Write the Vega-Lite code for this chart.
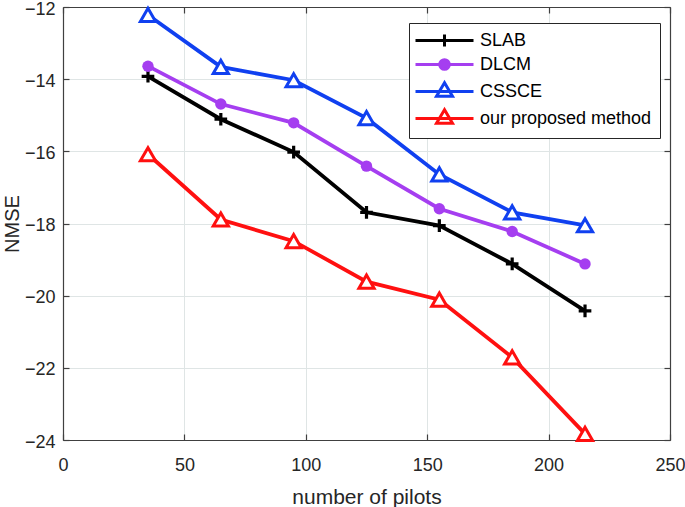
{
  "$schema": "https://vega.github.io/schema/vega-lite/v6.json",
  "width": 607,
  "height": 433,
  "autosize": {"type": "none"},
  "padding": {"left": 63, "top": 7, "right": 15, "bottom": 67},
  "background": "white",
  "config": {
    "view": {"stroke": null},
    "font": "Liberation Sans",
    "axis": {
      "labelFont": "Liberation Sans",
      "labelFontSize": 18,
      "labelColor": "#262626",
      "labelFlush": false,
      "titleFont": "Liberation Sans",
      "titleFontSize": 21,
      "titleFontWeight": "normal",
      "titleColor": "#262626",
      "domainColor": "#404040",
      "domainWidth": 1.2,
      "tickColor": "#404040",
      "tickWidth": 1.2,
      "tickSize": -6,
      "gridColor": "#dfe5e5",
      "gridWidth": 1,
      "gridOpacity": 1
    },
    "legend": {
      "labelFont": "Liberation Sans",
      "labelFontSize": 18,
      "labelColor": "#000000",
      "labelLimit": 0,
      "strokeColor": "#262626",
      "fillColor": "white",
      "padding": 8,
      "symbolSize": 256,
      "symbolStrokeWidth": 3,
      "symbolOpacity": 1,
      "symbolOffset": 18,
      "labelOffset": 26,
      "rowPadding": 0,
      "cornerRadius": 0
    }
  },
  "data": {
    "values": [
      {"series": "SLAB", "pilots": 35, "nmse": -13.92},
      {"series": "SLAB", "pilots": 65, "nmse": -15.11},
      {"series": "SLAB", "pilots": 95, "nmse": -16.02},
      {"series": "SLAB", "pilots": 125, "nmse": -17.69},
      {"series": "SLAB", "pilots": 155, "nmse": -18.06},
      {"series": "SLAB", "pilots": 185, "nmse": -19.12},
      {"series": "SLAB", "pilots": 215, "nmse": -20.42},
      {"series": "DLCM", "pilots": 35, "nmse": -13.64},
      {"series": "DLCM", "pilots": 65, "nmse": -14.69},
      {"series": "DLCM", "pilots": 95, "nmse": -15.21},
      {"series": "DLCM", "pilots": 125, "nmse": -16.41},
      {"series": "DLCM", "pilots": 155, "nmse": -17.59},
      {"series": "DLCM", "pilots": 185, "nmse": -18.22},
      {"series": "DLCM", "pilots": 215, "nmse": -19.12},
      {"series": "CSSCE", "pilots": 35, "nmse": -12.22},
      {"series": "CSSCE", "pilots": 65, "nmse": -13.66},
      {"series": "CSSCE", "pilots": 95, "nmse": -14.03},
      {"series": "CSSCE", "pilots": 125, "nmse": -15.08},
      {"series": "CSSCE", "pilots": 155, "nmse": -16.64},
      {"series": "CSSCE", "pilots": 185, "nmse": -17.69},
      {"series": "CSSCE", "pilots": 215, "nmse": -18.05},
      {"series": "our proposed method", "pilots": 35, "nmse": -16.08},
      {"series": "our proposed method", "pilots": 65, "nmse": -17.89},
      {"series": "our proposed method", "pilots": 95, "nmse": -18.49},
      {"series": "our proposed method", "pilots": 125, "nmse": -19.61},
      {"series": "our proposed method", "pilots": 155, "nmse": -20.11},
      {"series": "our proposed method", "pilots": 185, "nmse": -21.71},
      {"series": "our proposed method", "pilots": 215, "nmse": -23.83}
    ]
  },
  "resolve": {"axis": {"x": "independent", "y": "independent"}},
  "layer": [
    {
      "transform": [{"filter": "datum.series === 'SLAB'"}],
      "mark": {"type": "line", "strokeWidth": 3.8, "color": "#000000"},
      "encoding": {
        "x": {
          "field": "pilots", "type": "quantitative",
          "scale": {"domain": [0, 250], "nice": false},
          "axis": {
            "orient": "bottom", "title": "number of pilots",
            "values": [0, 50, 100, 150, 200, 250],
            "labelPadding": 36, "labelBaseline": "alphabetic",
            "titleY": 63, "titleBaseline": "alphabetic",
            "grid": true
          }
        },
        "y": {
          "field": "nmse", "type": "quantitative",
          "scale": {"domain": [-24, -12], "nice": false, "zero": false},
          "axis": {
            "orient": "left", "title": "NMSE",
            "values": [-24, -22, -20, -18, -16, -14, -12],
            "labelPadding": 14, "labelOffset": 2,
            "titleX": -51, "titleFontSize": 20, "titleBaseline": "middle",
            "grid": true
          }
        },
        "order": {"field": "pilots"}
      }
    },
    {
      "transform": [{"filter": "datum.series === 'SLAB'"}],
      "mark": {"type": "point", "shape": "M-1,0H1M0,-1V1", "size": 160, "strokeWidth": 3.2, "filled": false, "color": "#000000", "opacity": 1},
      "encoding": {
        "x": {"field": "pilots", "type": "quantitative", "axis": null},
        "y": {"field": "nmse", "type": "quantitative", "axis": null}
      }
    },
    {
      "transform": [{"filter": "datum.series === 'DLCM'"}],
      "mark": {"type": "line", "strokeWidth": 3.8, "color": "#a53ef0"},
      "encoding": {
        "x": {"field": "pilots", "type": "quantitative", "axis": null},
        "y": {"field": "nmse", "type": "quantitative", "axis": null},
        "order": {"field": "pilots"}
      }
    },
    {
      "transform": [{"filter": "datum.series === 'DLCM'"}],
      "mark": {"type": "point", "shape": "circle", "size": 130, "filled": true, "color": "#a53ef0", "opacity": 1},
      "encoding": {
        "x": {"field": "pilots", "type": "quantitative", "axis": null},
        "y": {"field": "nmse", "type": "quantitative", "axis": null}
      }
    },
    {
      "transform": [{"filter": "datum.series === 'CSSCE'"}],
      "mark": {"type": "line", "strokeWidth": 3.8, "color": "#1040f0"},
      "encoding": {
        "x": {"field": "pilots", "type": "quantitative", "axis": null},
        "y": {"field": "nmse", "type": "quantitative", "axis": null},
        "order": {"field": "pilots"}
      }
    },
    {
      "transform": [{"filter": "datum.series === 'CSSCE'"}],
      "mark": {"type": "point", "shape": "triangle-up", "size": 230, "strokeWidth": 3, "filled": false, "stroke": "#1040f0", "fill": "white", "opacity": 1},
      "encoding": {
        "x": {"field": "pilots", "type": "quantitative", "axis": null},
        "y": {"field": "nmse", "type": "quantitative", "axis": null}
      }
    },
    {
      "transform": [{"filter": "datum.series === 'our proposed method'"}],
      "mark": {"type": "line", "strokeWidth": 3.8, "color": "#ff1010"},
      "encoding": {
        "x": {"field": "pilots", "type": "quantitative", "axis": null},
        "y": {"field": "nmse", "type": "quantitative", "axis": null},
        "order": {"field": "pilots"}
      }
    },
    {
      "transform": [{"filter": "datum.series === 'our proposed method'"}],
      "mark": {"type": "point", "shape": "triangle-up", "size": 230, "strokeWidth": 3, "filled": false, "stroke": "#ff1010", "fill": "white", "opacity": 1},
      "encoding": {
        "x": {"field": "pilots", "type": "quantitative", "axis": null},
        "y": {"field": "nmse", "type": "quantitative", "axis": null}
      }
    },
    {
      "transform": [{"filter": "datum.pilots < 0"}],
      "mark": {"type": "point", "strokeWidth": 3, "filled": false, "opacity": 1},
      "encoding": {
        "x": {
          "field": "pilots", "type": "quantitative",
          "axis": {"orient": "top", "labels": false, "title": null, "grid": false, "values": [0, 50, 100, 150, 200, 250]}
        },
        "y": {
          "field": "nmse", "type": "quantitative",
          "axis": {"orient": "right", "labels": false, "title": null, "grid": false, "values": [-24, -22, -20, -18, -16, -14, -12]}
        },
        "color": {
          "field": "series", "type": "nominal",
          "scale": {
            "domain": ["SLAB", "DLCM", "CSSCE", "our proposed method"],
            "range": ["#000000", "#a53ef0", "#1040f0", "#ff1010"]
          },
          "legend": {"title": null, "orient": "none", "legendX": 346, "legendY": 16}
        },
        "fill": {
          "field": "series", "type": "nominal",
          "scale": {
            "domain": ["SLAB", "DLCM", "CSSCE", "our proposed method"],
            "range": ["transparent", "#a53ef0", "white", "white"]
          },
          "legend": {"title": null, "orient": "none", "legendX": 346, "legendY": 16}
        },
        "shape": {
          "field": "series", "type": "nominal",
          "scale": {
            "domain": ["SLAB", "DLCM", "CSSCE", "our proposed method"],
            "range": [
              "M-3.625,0H3.625M0,-0.75V0.75",
              "M-3.625,0H3.625M-0.6,0A0.6,0.6,0,1,1,0.6,0A0.6,0.6,0,1,1,-0.6,0Z",
              "M-3.625,0H3.625M0,-1.1L-1,0.6L1,0.6Z",
              "M-3.625,0H3.625M0,-1.1L-1,0.6L1,0.6Z"
            ]
          },
          "legend": {"title": null, "orient": "none", "legendX": 346, "legendY": 16}
        }
      }
    }
  ]
}
